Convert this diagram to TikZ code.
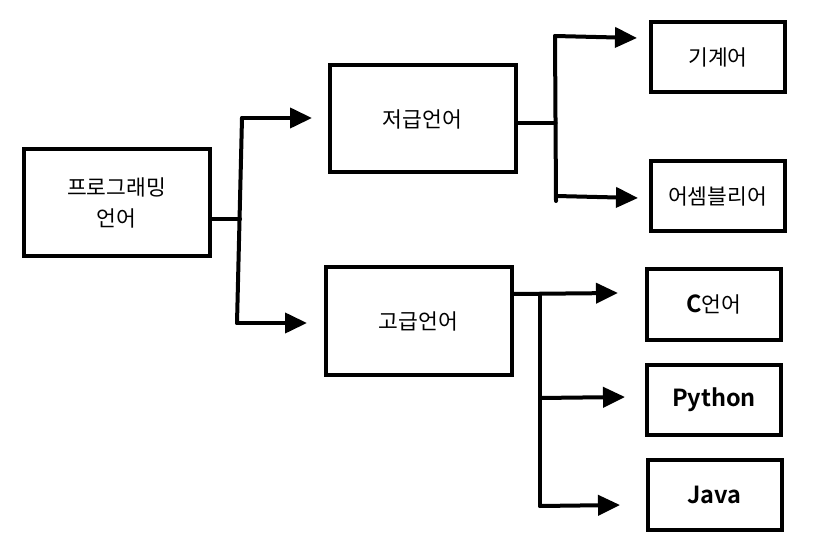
\documentclass[tikz,border=0pt]{standalone}
\usepackage{fontspec}
\setmainfont{Noto Sans CJK KR}[BoldFont={Noto Sans CJK KR Bold}]
\usetikzlibrary{arrows.meta}
\begin{document}
\begin{tikzpicture}[x=1pt,y=-1pt,
  box/.style={rectangle,draw,line width=4pt,inner sep=0pt,align=center,font=\fontsize{21.5}{31}\selectfont},
  big/.style={box,minimum width=186pt,minimum height=107pt},
  small/.style={box,minimum width=134pt,minimum height=70pt},
  latin/.style={font=\fontsize{23.5}{28}\selectfont\bfseries},
  line/.style={line width=4pt,line cap=round},
  arr/.style={line,-{Triangle[length=22pt,width=20pt]}}]
\useasboundingbox (0,0) rectangle (836,556);
\node[big] (prog) at (116.5,203) {프로그래밍\\언어};
\node[big] (low) at (422.5,119) {저급언어};
\node[big] (high) at (418.5,321) {고급언어};
\node[small] (mach) at (718,57) {기계어};
\node[small] (asm) at (717.5,196) {어셈블리어};
\node[small] (clang) at (714,304.5) {{\fontsize{23.5}{28}\selectfont\bfseries C}언어};
\node[small,latin] (python) at (714,399.5) {Python};
\node[small,latin] (java) at (714.5,494.5) {Java};

\coordinate (j1) at (240,219);
\coordinate (t1) at (242,118);
\coordinate (b1) at (237,323);
\draw[line] (prog.east |- j1) -- (j1);
\draw[line] (t1) -- (b1);
\draw[arr] (t1) -- (312,118);
\draw[arr] (b1) -- (307,323);

\coordinate (j2) at (555.5,123);
\coordinate (t2) at (555,36);
\coordinate (b2) at (556,201);
\draw[line] (low.east |- j2) -- (j2);
\draw[line] (t2) -- (b2);
\draw[arr] (t2) -- (637,38);
\draw[arr] (556,196) -- (638,198);

\coordinate (j3) at (540,294);
\coordinate (b3) at (540,506);
\draw[arr] (high.east |- j3) -- (618,293);
\draw[line] (j3) -- (b3);
\draw[arr] (540,398) -- (625,397);
\draw[arr] (b3) -- (620,505);
\end{tikzpicture}
\end{document}
